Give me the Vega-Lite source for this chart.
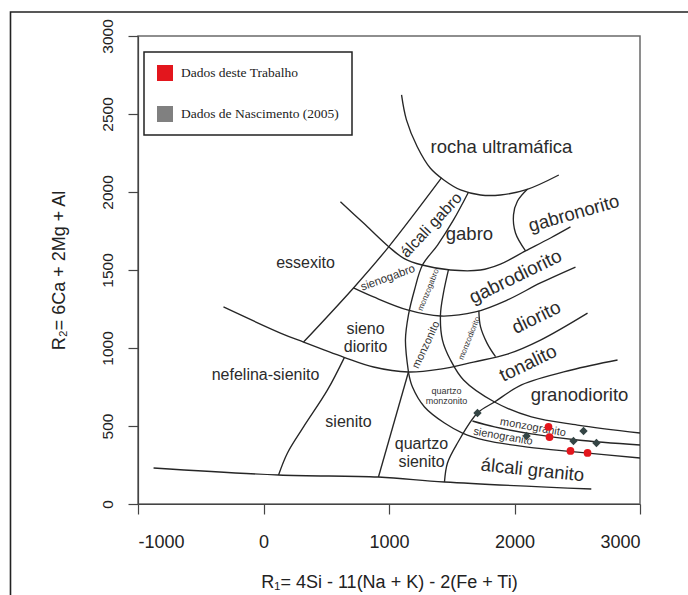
{
  "$schema": "https://vega.github.io/schema/vega-lite/v6.json",
  "width": 502,
  "height": 468,
  "autosize": {"type": "none"},
  "padding": {"left": 138, "top": 36, "right": 48, "bottom": 91},
  "background": "white",
  "config": {
    "view": {"stroke": "#6a6a6a", "strokeWidth": 1.5},
    "font": "Liberation Sans",
    "axis": {
      "grid": false,
      "domain": true,
      "domainColor": "#444",
      "domainWidth": 1.2,
      "tickSize": 10,
      "tickColor": "#444",
      "tickWidth": 1.2,
      "labelColor": "#222",
      "titleColor": "#222",
      "titleFont": "Liberation Sans",
      "titleFontWeight": "normal",
      "titleFontSize": 18,
      "labelFont": "Liberation Sans"
    }
  },
  "datasets": {
    "boundaries": [
      {"curve": "ultramafica", "seq": 0, "R1": 1100, "R2": 2622},
      {"curve": "ultramafica", "seq": 1, "R1": 1139, "R2": 2462},
      {"curve": "ultramafica", "seq": 2, "R1": 1225, "R2": 2290},
      {"curve": "ultramafica", "seq": 3, "R1": 1330, "R2": 2152},
      {"curve": "ultramafica", "seq": 4, "R1": 1437, "R2": 2077},
      {"curve": "ultramafica", "seq": 5, "R1": 1570, "R2": 2013},
      {"curve": "ultramafica", "seq": 6, "R1": 1729, "R2": 1981},
      {"curve": "ultramafica", "seq": 7, "R1": 1888, "R2": 1981},
      {"curve": "ultramafica", "seq": 8, "R1": 2101, "R2": 2017},
      {"curve": "ultramafica", "seq": 9, "R1": 2353, "R2": 2109},

      {"curve": "gabro_base", "seq": 0, "R1": 613, "R2": 1938},
      {"curve": "gabro_base", "seq": 1, "R1": 799, "R2": 1799},
      {"curve": "gabro_base", "seq": 2, "R1": 998, "R2": 1649},
      {"curve": "gabro_base", "seq": 3, "R1": 1118, "R2": 1575},
      {"curve": "gabro_base", "seq": 4, "R1": 1264, "R2": 1532},
      {"curve": "gabro_base", "seq": 5, "R1": 1490, "R2": 1500},
      {"curve": "gabro_base", "seq": 6, "R1": 1729, "R2": 1500},
      {"curve": "gabro_base", "seq": 7, "R1": 1888, "R2": 1538},
      {"curve": "gabro_base", "seq": 8, "R1": 2088, "R2": 1622},
      {"curve": "gabro_base", "seq": 9, "R1": 2287, "R2": 1705},
      {"curve": "gabro_base", "seq": 10, "R1": 2446, "R2": 1776},

      {"curve": "gabronorito", "seq": 0, "R1": 2104, "R2": 2019},
      {"curve": "gabronorito", "seq": 1, "R1": 2024, "R2": 1942},
      {"curve": "gabronorito", "seq": 2, "R1": 1992, "R2": 1853},
      {"curve": "gabronorito", "seq": 3, "R1": 2008, "R2": 1737},
      {"curve": "gabronorito", "seq": 4, "R1": 2088, "R2": 1622},

      {"curve": "alcali_gabro_w", "seq": 0, "R1": 1418, "R2": 2090},
      {"curve": "alcali_gabro_w", "seq": 1, "R1": 996, "R2": 1647},
      {"curve": "alcali_gabro_w", "seq": 2, "R1": 717, "R2": 1385},
      {"curve": "alcali_gabro_w", "seq": 3, "R1": 319, "R2": 1038},

      {"curve": "alcali_gabro_e", "seq": 0, "R1": 1634, "R2": 2000},
      {"curve": "alcali_gabro_e", "seq": 1, "R1": 1514, "R2": 1821},
      {"curve": "alcali_gabro_e", "seq": 2, "R1": 1387, "R2": 1660},
      {"curve": "alcali_gabro_e", "seq": 3, "R1": 1267, "R2": 1532},
      {"curve": "alcali_gabro_e", "seq": 4, "R1": 1203, "R2": 1372},
      {"curve": "alcali_gabro_e", "seq": 5, "R1": 1155, "R2": 1212},
      {"curve": "alcali_gabro_e", "seq": 6, "R1": 1131, "R2": 1051},
      {"curve": "alcali_gabro_e", "seq": 7, "R1": 1155, "R2": 846},

      {"curve": "quartzo_sienito_w", "seq": 0, "R1": 1155, "R2": 846},
      {"curve": "quartzo_sienito_w", "seq": 1, "R1": 916, "R2": 173},

      {"curve": "sienodiorito_n", "seq": 0, "R1": 717, "R2": 1385},
      {"curve": "sienodiorito_n", "seq": 1, "R1": 877, "R2": 1327},
      {"curve": "sienodiorito_n", "seq": 2, "R1": 1147, "R2": 1244},
      {"curve": "sienodiorito_n", "seq": 3, "R1": 1410, "R2": 1205},
      {"curve": "sienodiorito_n", "seq": 4, "R1": 1689, "R2": 1231},
      {"curve": "sienodiorito_n", "seq": 5, "R1": 1944, "R2": 1308},
      {"curve": "sienodiorito_n", "seq": 6, "R1": 2207, "R2": 1417},
      {"curve": "sienodiorito_n", "seq": 7, "R1": 2486, "R2": 1519},

      {"curve": "nefelina_n", "seq": 0, "R1": -319, "R2": 1263},
      {"curve": "nefelina_n", "seq": 1, "R1": 135, "R2": 1096},
      {"curve": "nefelina_n", "seq": 2, "R1": 319, "R2": 1038},
      {"curve": "nefelina_n", "seq": 3, "R1": 637, "R2": 942},
      {"curve": "nefelina_n", "seq": 4, "R1": 877, "R2": 878},
      {"curve": "nefelina_n", "seq": 5, "R1": 1155, "R2": 846},
      {"curve": "nefelina_n", "seq": 6, "R1": 1410, "R2": 865},
      {"curve": "nefelina_n", "seq": 7, "R1": 1673, "R2": 910},
      {"curve": "nefelina_n", "seq": 8, "R1": 1944, "R2": 961},
      {"curve": "nefelina_n", "seq": 9, "R1": 2207, "R2": 1051},
      {"curve": "nefelina_n", "seq": 10, "R1": 2582, "R2": 1224},

      {"curve": "sienito_w", "seq": 0, "R1": 645, "R2": 940},
      {"curve": "sienito_w", "seq": 1, "R1": 510, "R2": 731},
      {"curve": "sienito_w", "seq": 2, "R1": 319, "R2": 494},
      {"curve": "sienito_w", "seq": 3, "R1": 191, "R2": 327},
      {"curve": "sienito_w", "seq": 4, "R1": 120, "R2": 186},

      {"curve": "base", "seq": 0, "R1": -876, "R2": 231},
      {"curve": "base", "seq": 1, "R1": 120, "R2": 186},
      {"curve": "base", "seq": 2, "R1": 916, "R2": 173},
      {"curve": "base", "seq": 3, "R1": 1442, "R2": 141},
      {"curve": "base", "seq": 4, "R1": 2612, "R2": 96},

      {"curve": "tonalito_s", "seq": 0, "R1": 1442, "R2": 141},
      {"curve": "tonalito_s", "seq": 1, "R1": 1466, "R2": 263},
      {"curve": "tonalito_s", "seq": 2, "R1": 1546, "R2": 391},
      {"curve": "tonalito_s", "seq": 3, "R1": 1705, "R2": 583},
      {"curve": "tonalito_s", "seq": 4, "R1": 1841, "R2": 654},
      {"curve": "tonalito_s", "seq": 5, "R1": 2056, "R2": 763},
      {"curve": "tonalito_s", "seq": 6, "R1": 2454, "R2": 859},
      {"curve": "tonalito_s", "seq": 7, "R1": 2821, "R2": 923},

      {"curve": "granodiorito_s", "seq": 0, "R1": 1474, "R2": 1502},
      {"curve": "granodiorito_s", "seq": 1, "R1": 1434, "R2": 1353},
      {"curve": "granodiorito_s", "seq": 2, "R1": 1410, "R2": 1212},
      {"curve": "granodiorito_s", "seq": 3, "R1": 1426, "R2": 1051},
      {"curve": "granodiorito_s", "seq": 4, "R1": 1490, "R2": 923},
      {"curve": "granodiorito_s", "seq": 5, "R1": 1594, "R2": 795},
      {"curve": "granodiorito_s", "seq": 6, "R1": 1841, "R2": 654},
      {"curve": "granodiorito_s", "seq": 7, "R1": 2135, "R2": 558},
      {"curve": "granodiorito_s", "seq": 8, "R1": 2502, "R2": 506},
      {"curve": "granodiorito_s", "seq": 9, "R1": 3000, "R2": 455},

      {"curve": "sienogranito_s", "seq": 0, "R1": 1155, "R2": 846},
      {"curve": "sienogranito_s", "seq": 1, "R1": 1187, "R2": 750},
      {"curve": "sienogranito_s", "seq": 2, "R1": 1283, "R2": 622},
      {"curve": "sienogranito_s", "seq": 3, "R1": 1442, "R2": 519},
      {"curve": "sienogranito_s", "seq": 4, "R1": 1586, "R2": 455},
      {"curve": "sienogranito_s", "seq": 5, "R1": 1761, "R2": 410},
      {"curve": "sienogranito_s", "seq": 6, "R1": 2104, "R2": 365},
      {"curve": "sienogranito_s", "seq": 7, "R1": 2502, "R2": 333},
      {"curve": "sienogranito_s", "seq": 8, "R1": 3000, "R2": 295},

      {"curve": "monzogranito_s", "seq": 0, "R1": 1665, "R2": 532},
      {"curve": "monzogranito_s", "seq": 1, "R1": 1841, "R2": 494},
      {"curve": "monzogranito_s", "seq": 2, "R1": 2135, "R2": 449},
      {"curve": "monzogranito_s", "seq": 3, "R1": 2502, "R2": 410},
      {"curve": "monzogranito_s", "seq": 4, "R1": 3000, "R2": 378},

      {"curve": "monzodiorito_e", "seq": 0, "R1": 1716, "R2": 1239},
      {"curve": "monzodiorito_e", "seq": 1, "R1": 1729, "R2": 1137},
      {"curve": "monzodiorito_e", "seq": 2, "R1": 1782, "R2": 1030},
      {"curve": "monzodiorito_e", "seq": 3, "R1": 1849, "R2": 944}
    ],
    "frame": [
      {"seq": 0, "R1": -2016, "R2": -700},
      {"seq": 1, "R1": -2016, "R2": 3154},
      {"seq": 2, "R1": 3500, "R2": 3154}
    ],
    "samples": [
      {"grupo": "Dados deste Trabalho", "R1": 2271, "R2": 494},
      {"grupo": "Dados deste Trabalho", "R1": 2279, "R2": 429},
      {"grupo": "Dados deste Trabalho", "R1": 2446, "R2": 340},
      {"grupo": "Dados deste Trabalho", "R1": 2582, "R2": 327},
      {"grupo": "Dados de Nascimento (2005)", "R1": 1705, "R2": 583},
      {"grupo": "Dados de Nascimento (2005)", "R1": 2096, "R2": 436},
      {"grupo": "Dados de Nascimento (2005)", "R1": 2550, "R2": 468},
      {"grupo": "Dados de Nascimento (2005)", "R1": 2470, "R2": 404},
      {"grupo": "Dados de Nascimento (2005)", "R1": 2653, "R2": 391}
    ],
    "labels_left": [
      {"label": "essexito", "R1": 335, "R2": 1545},
      {"label": "nefelina-sienito", "R1": 16, "R2": 827},
      {"label": "sienito", "R1": 677, "R2": 526},
      {"label": "sieno\ndiorito", "R1": 813, "R2": 1122},
      {"label": "quartzo\nsienito", "R1": 1259, "R2": 385}
    ],
    "labels_right": [
      {"label": "rocha ultramáfica", "R1": 1896, "R2": 2288},
      {"label": "gabro", "R1": 1641, "R2": 1731},
      {"label": "granodiorito", "R1": 2518, "R2": 699}
    ],
    "labels_gabronorito": [
      {"label": "gabronorito", "R1": 2473, "R2": 1863}
    ],
    "labels_diag": [
      {"label": "gabrodiorito", "R1": 2008, "R2": 1457},
      {"label": "diorito", "R1": 2174, "R2": 1196},
      {"label": "tonalito", "R1": 2108, "R2": 902}
    ],
    "labels_alcali_granito": [
      {"label": "álcali granito", "R1": 2143, "R2": 218}
    ],
    "labels_alcali_gabro": [
      {"label": "álcali gabro", "R1": 1337, "R2": 1788}
    ],
    "labels_sienogabro": [
      {"label": "sienogabro", "R1": 992, "R2": 1447}
    ],
    "labels_monzo_tiny": [
      {"label": "monzogabro", "R1": 1317, "R2": 1372},
      {"label": "monzodiorito", "R1": 1643, "R2": 1062}
    ],
    "labels_monzonito": [
      {"label": "monzonito", "R1": 1297, "R2": 1019}
    ],
    "labels_qz_monzonito": [
      {"label": "quartzo\nmonzonito", "R1": 1458, "R2": 724}
    ],
    "labels_granitos": [
      {"label": "monzogranito", "R1": 2147, "R2": 490},
      {"label": "sienogranito", "R1": 1908, "R2": 431}
    ]
  },
  "encoding": {
    "x": {
      "field": "R1",
      "type": "quantitative",
      "title": "R₁= 4Si - 11(Na + K) - 2(Fe + Ti)",
      "scale": {"domain": [-1000, 3000], "nice": false, "zero": false},
      "axis": {
        "values": [-1000, 0, 1000, 2000, 3000],
        "labelExpr": "'' + datum.value",
        "labelFontSize": 18,
        "labelPadding": 19,
        "titlePadding": 22
      }
    },
    "y": {
      "field": "R2",
      "type": "quantitative",
      "title": "R₂= 6Ca + 2Mg + Al",
      "scale": {"domain": [0, 3000], "nice": false, "zero": false},
      "axis": {
        "values": [0, 500, 1000, 1500, 2000, 2500, 3000],
        "labelExpr": "'' + datum.value",
        "labelAngle": -90,
        "labelAlign": "center",
        "labelBaseline": "bottom",
        "labelFontSize": 15.5,
        "labelPadding": 13,
        "titlePadding": 32
      }
    }
  },
  "layer": [
    {
      "data": {"name": "frame"},
      "mark": {"type": "line", "clip": false, "stroke": "#222", "strokeWidth": 1.6},
      "encoding": {"order": {"field": "seq", "type": "quantitative"}}
    },
    {
      "data": {"name": "boundaries"},
      "mark": {"type": "line", "interpolate": "catmull-rom", "clip": true, "stroke": "#262626", "strokeWidth": 1.35},
      "encoding": {
        "detail": {"field": "curve"},
        "order": {"field": "seq", "type": "quantitative"}
      }
    },
    {
      "data": {"name": "labels_left"},
      "mark": {"type": "text", "fontSize": 16, "fill": "#2b2b2b", "lineBreak": "\n", "lineHeight": 18.5, "align": "center", "baseline": "middle"},
      "encoding": {"text": {"field": "label"}}
    },
    {
      "data": {"name": "labels_right"},
      "mark": {"type": "text", "fontSize": 18.5, "fill": "#2b2b2b", "align": "center", "baseline": "middle"},
      "encoding": {"text": {"field": "label"}}
    },
    {
      "data": {"name": "labels_gabronorito"},
      "mark": {"type": "text", "fontSize": 18.5, "angle": -16, "fill": "#2b2b2b", "align": "center", "baseline": "middle"},
      "encoding": {"text": {"field": "label"}}
    },
    {
      "data": {"name": "labels_diag"},
      "mark": {"type": "text", "fontSize": 19, "angle": -26, "fill": "#2b2b2b", "align": "center", "baseline": "middle"},
      "encoding": {"text": {"field": "label"}}
    },
    {
      "data": {"name": "labels_alcali_granito"},
      "mark": {"type": "text", "fontSize": 18.5, "angle": 6, "fill": "#2b2b2b", "align": "center", "baseline": "middle"},
      "encoding": {"text": {"field": "label"}}
    },
    {
      "data": {"name": "labels_alcali_gabro"},
      "mark": {"type": "text", "fontSize": 16, "angle": -47, "fill": "#2b2b2b", "align": "center", "baseline": "middle"},
      "encoding": {"text": {"field": "label"}}
    },
    {
      "data": {"name": "labels_sienogabro"},
      "mark": {"type": "text", "fontSize": 11.5, "angle": -20, "fill": "#333", "align": "center", "baseline": "middle"},
      "encoding": {"text": {"field": "label"}}
    },
    {
      "data": {"name": "labels_monzo_tiny"},
      "mark": {"type": "text", "fontSize": 8, "angle": -68, "fill": "#333", "align": "center", "baseline": "middle"},
      "encoding": {"text": {"field": "label"}}
    },
    {
      "data": {"name": "labels_monzonito"},
      "mark": {"type": "text", "fontSize": 11, "angle": -65, "fill": "#333", "align": "center", "baseline": "middle"},
      "encoding": {"text": {"field": "label"}}
    },
    {
      "data": {"name": "labels_qz_monzonito"},
      "mark": {"type": "text", "fontSize": 9, "fill": "#333", "lineBreak": "\n", "lineHeight": 10, "align": "center", "baseline": "middle"},
      "encoding": {"text": {"field": "label"}}
    },
    {
      "data": {"name": "labels_granitos"},
      "mark": {"type": "text", "fontSize": 11, "angle": 10, "fill": "#333", "align": "center", "baseline": "middle"},
      "encoding": {"text": {"field": "label"}}
    },
    {
      "data": {"name": "samples"},
      "transform": [{"filter": "datum.grupo === 'Dados deste Trabalho'"}],
      "mark": {"type": "point", "shape": "circle", "filled": true, "opacity": 1, "size": 60, "clip": true},
      "encoding": {
        "color": {
          "field": "grupo",
          "type": "nominal",
          "scale": {
            "domain": ["Dados deste Trabalho", "Dados de Nascimento (2005)"],
            "range": ["#e3161d", "#808080"]
          },
          "legend": {
            "title": null,
            "orient": "none",
            "legendX": 6,
            "legendY": 16,
            "direction": "vertical",
            "symbolType": "square",
            "symbolSize": 256,
            "symbolStrokeWidth": 0,
            "symbolOpacity": 1,
            "labelFont": "Liberation Serif",
            "labelFontSize": 13.5,
            "labelColor": "#222",
            "labelOffset": 8,
            "labelLimit": 300,
            "rowPadding": 25,
            "padding": 13,
            "strokeColor": "#222",
            "fillColor": "white",
            "encode": {
              "legend": {"update": {"strokeWidth": {"value": 1.5}}}
            }
          }
        }
      }
    },
    {
      "data": {"name": "samples"},
      "transform": [{"filter": "datum.grupo === 'Dados de Nascimento (2005)'"}],
      "mark": {"type": "point", "shape": "diamond", "filled": true, "opacity": 1, "size": 70, "clip": true, "color": "#344545"},
      "encoding": {}
    }
  ]
}
